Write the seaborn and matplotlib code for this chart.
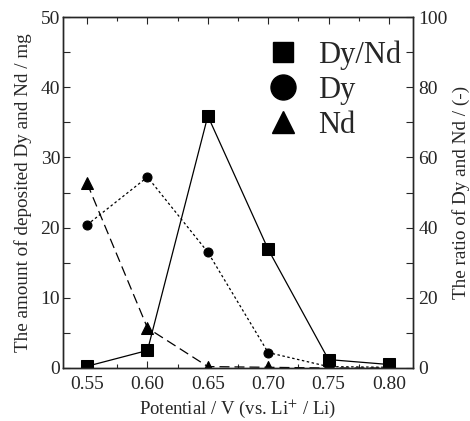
import matplotlib
matplotlib.use("Agg")
import matplotlib.pyplot as plt
import seaborn as sns
import pandas as pd
from matplotlib.lines import Line2D
from matplotlib.ticker import MultipleLocator

potential = [0.55, 0.60, 0.65, 0.70, 0.75, 0.80]
ratio_dy_nd = [0.5, 5.0, 71.8, 33.8, 2.4, 1.0]
dy_amount = [20.4, 27.2, 16.5, 2.2, 0.2, 0.1]
nd_amount = [26.3, 5.7, 0.2, 0.1, 0.0, 0.0]

df = pd.DataFrame({"potential": potential, "ratio": ratio_dy_nd,
                   "Dy": dy_amount, "Nd": nd_amount})

sns.set_style("ticks")
plt.rcParams["font.family"] = ["Liberation Serif", "DejaVu Serif"]
plt.rcParams["mathtext.fontset"] = "stix"

fig = plt.figure(figsize=(4.70, 4.21), dpi=100)
ax = fig.add_axes([63/470, 1-368/421, 350/470, 351/421])
ax2 = ax.twinx()

sns.lineplot(data=df, x="potential", y="Dy", ax=ax, color="black", lw=0.9,
             marker="o", markersize=6.5, markeredgecolor="black",
             linestyle=(0, (2, 2)))
sns.lineplot(data=df, x="potential", y="Nd", ax=ax, color="black", lw=0.9,
             marker="^", markersize=8, markeredgecolor="black",
             linestyle=(0, (8, 4)))
sns.lineplot(data=df, x="potential", y="ratio", ax=ax2, color="black", lw=0.9,
             marker="s", markersize=8.5, markeredgecolor="black")

ax.set_xlim(0.53, 0.82)
ax.set_ylim(0, 50)
ax2.set_ylim(0, 100)
ax.set_xticks(potential)
ax.set_xticklabels([f"{p:.2f}" for p in potential])
ax.xaxis.set_minor_locator(MultipleLocator(0.025))
ax.yaxis.set_major_locator(MultipleLocator(10))
ax.yaxis.set_minor_locator(MultipleLocator(5))
ax2.yaxis.set_major_locator(MultipleLocator(20))
ax2.yaxis.set_minor_locator(MultipleLocator(10))

for a in (ax, ax2):
    for s in a.spines.values():
        s.set_visible(True)
        s.set_linewidth(1.0)
ax.tick_params(axis="x", which="both", direction="in", top=True, labelsize=14,
               pad=6)
ax.tick_params(axis="x", which="major", length=5, width=0.8)
ax.tick_params(axis="x", which="minor", length=3, width=0.8)
ax.tick_params(axis="y", which="major", direction="in", length=5, width=0.8,
               labelsize=14, pad=2)
ax.tick_params(axis="y", which="minor", direction="in", length=5, width=0.8)
ax2.tick_params(axis="y", which="major", direction="in", length=5, width=0.8,
                labelsize=14, pad=4)
ax2.tick_params(axis="y", which="minor", direction="in", length=5, width=0.8)

ax.set_xlabel("Potential / V (vs. Li$^{+}$ / Li)", fontsize=13.5, labelpad=3)
ax.set_ylabel("The amount of deposited Dy and Nd / mg", fontsize=13.8,
              labelpad=6)
ax2.set_ylabel("The ratio of Dy and Nd / (-)", fontsize=13.8, labelpad=3)

handles = [
    Line2D([], [], color="black", marker="s", linestyle="none", markersize=14),
    Line2D([], [], color="black", marker="o", linestyle="none", markersize=18),
    Line2D([], [], color="black", marker="^", linestyle="none", markersize=16),
]
leg = ax.legend(handles, ["Dy/Nd", "Dy", "Nd"], loc="upper right",
                bbox_to_anchor=(1.0, 0.968), frameon=False, fontsize=22,
                handletextpad=0.5, labelspacing=0.2, borderaxespad=0.0,
                handlelength=1.3)
leg.set_zorder(10)

fig.savefig("out.png", dpi=100)
